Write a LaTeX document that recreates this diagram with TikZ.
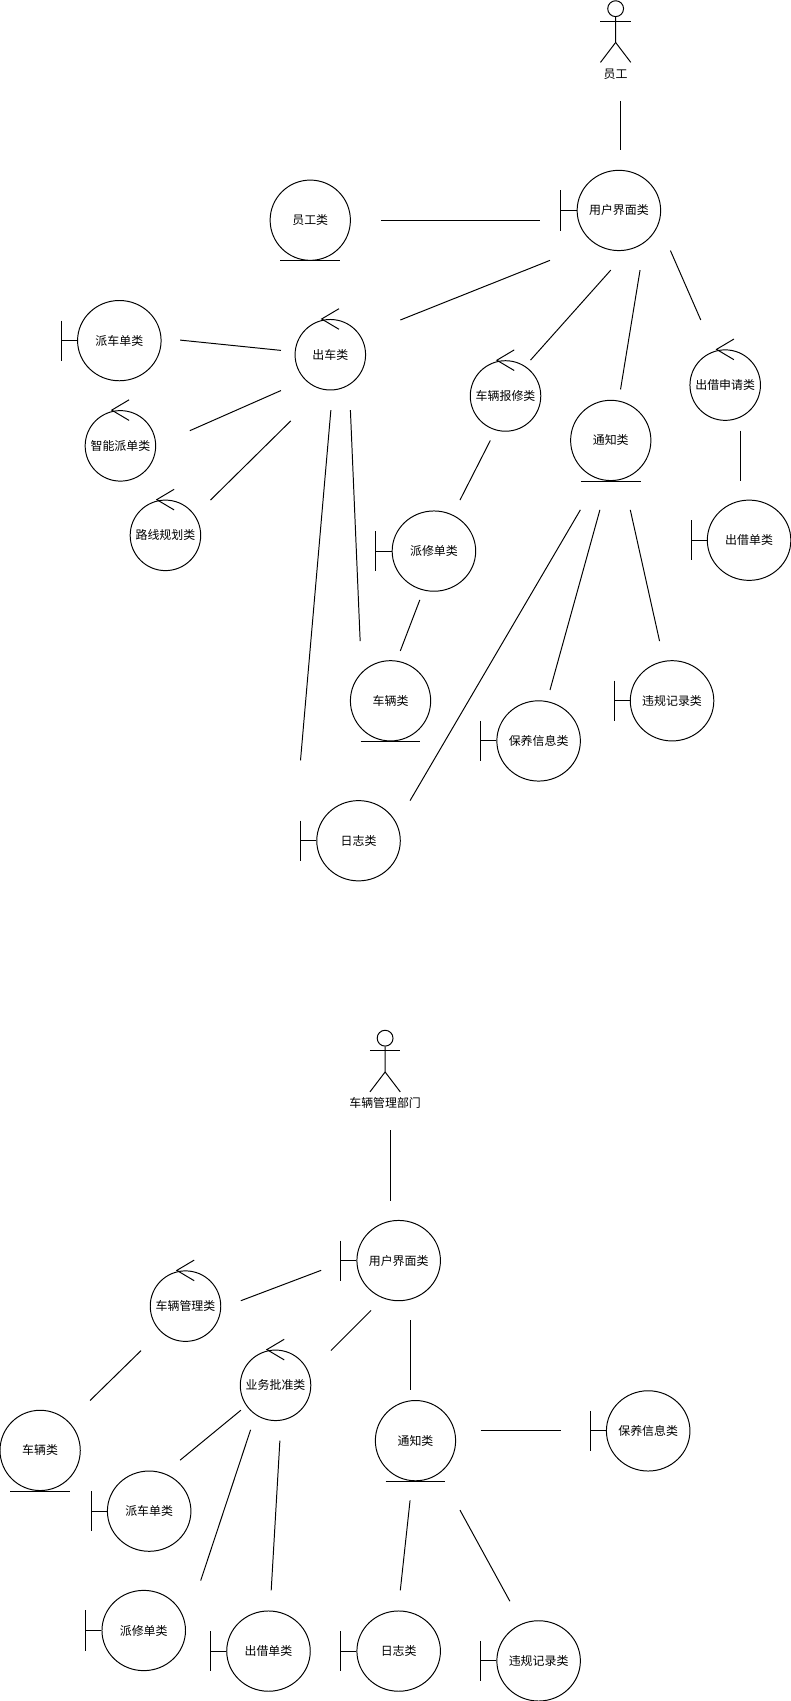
\documentclass[tikz,border=0pt]{standalone}
\usepackage{fontspec}
\setmainfont{Noto Sans CJK SC}
\usetikzlibrary{shapes.geometric}
\tikzset{
  ln/.style={draw=black,line width=0.9pt},
  bndnode/.style={ellipse,draw=black,line width=0.9pt,minimum width=77pt,minimum height=74pt,inner sep=0pt,font=\fontsize{11}{13}\selectfont},
  entnode/.style={ellipse,draw=black,line width=0.9pt,minimum width=74pt,minimum height=74pt,inner sep=0pt,font=\fontsize{11}{13}\selectfont},
  ctlnode/.style={ellipse,draw=black,line width=0.9pt,minimum width=65pt,minimum height=65pt,inner sep=0pt,font=\fontsize{11}{13}\selectfont},
  lbl/.style={inner sep=0pt,font=\fontsize{11}{13}\selectfont}
}
\newcommand{\bndcls}[4]{%
  \node[bndnode] (#1) at (#2,#3) {\makebox[0pt]{#4}};
  \draw[ln] (#1.west) -- ++(-14.5,0) ++(0,-18.5) -- ++(0,37);
}
\newcommand{\entcls}[4]{%
  \node[entnode] (#1) at (#2,#3) {\makebox[0pt]{#4}};
  \draw[ln] ([xshift=-27.5pt]#1.south) -- ([xshift=27.5pt]#1.south);
}
\newcommand{\ctlcls}[4]{%
  \node[ctlnode] (#1) at (#2,#3) {\makebox[0pt]{#4}};
  \draw[ln] ([shift={(8pt,9.5pt)}]#1.north) -- ([shift={(-8pt,0pt)}]#1.north) -- ([shift={(8pt,-9.5pt)}]#1.north);
}
\newcommand{\actorfig}[4]{%
  \node[circle,draw=black,line width=0.9pt,minimum size=14.6pt,inner sep=0pt] (#1) at (#2,#3) {};
  \draw[ln] (#1.south) -- ++(0,23.4) coordinate (#1hip) -- ++(-14,18.4);
  \draw[ln] (#1hip) -- ++(14,18.4);
  \draw[ln] ([shift={(-14pt,-3.8pt)}]#1.south) -- ([shift={(14pt,-3.8pt)}]#1.south);
  \node[lbl] (#1label) at (#2,#3+60) {#4};
}
\newcommand{\link}[3]{%
  \coordinate (#1a) at (#2); \coordinate (#1b) at (#3);
  \draw[ln] (#1a) -- (#1b);
}
\begin{document}
\begin{tikzpicture}[x=1pt,y=-1pt]
\useasboundingbox (0,0) rectangle (729,1568);
% actors
\actorfig{aone}{567.5}{8}{员工}
\actorfig{atwo}{355}{957}{车辆管理部门}
% upper
\bndcls{ui}{570.5}{194}{用户界面类}
\entcls{staff}{286}{203}{员工类}
\ctlcls{dep}{304.5}{327}{出车类}
\ctlcls{rep}{466}{365}{车辆报修类}
\ctlcls{lend}{668.5}{355}{出借申请类}
\ctlcls{smart}{111}{411}{智能派单类}
\ctlcls{route}{152.5}{493.5}{路线规划类}
\bndcls{disp}{110}{314}{派车单类}
\bndcls{fix}{400}{508}{派修单类}
\bndcls{lendo}{690.5}{498}{出借单类}
\bndcls{vio}{619.5}{646}{违规记录类}
\bndcls{maint}{496.5}{683}{保养信息类}
\bndcls{log}{330.5}{775}{日志类}
\entcls{note}{563}{406}{通知类}
\entcls{car}{360}{646}{车辆类}
% lower
\bndcls{uib}{367.5}{1162}{用户界面类}
\ctlcls{cmg}{171}{1204}{车辆管理类}
\ctlcls{biz}{254}{1277}{业务批准类}
\entcls{carb}{37}{1337}{车辆类}
\entcls{noteb}{383}{1328}{通知类}
\bndcls{dispb}{137.5}{1393}{派车单类}
\bndcls{fixb}{132.5}{1503}{派修单类}
\bndcls{lendb}{247.5}{1522}{出借单类}
\bndcls{logb}{367.5}{1522}{日志类}
\bndcls{viob}{496.5}{1531}{违规记录类}
\bndcls{maintb}{597.5}{1319}{保养信息类}
% connectors upper
\link{ca}{572,93}{572,138}
\link{cb}{351,203}{498,203}
\link{cc}{507,240}{369,295}
\link{cd}{563,249}{489,332}
\link{ce}{590,249}{572,359}
\link{cf}{618,231}{646,295}
\link{cg}{683,397}{683,443}
\link{ch}{259,323}{166,313.5}
\link{ci}{259,360}{175,397}
\link{cj}{268,388}{194,461}
\link{ck}{323,378}{332,591}
\link{cl}{305,378}{277,701}
\link{cm}{452,406}{424,461}
\link{cn}{387,553}{369,600}
\link{co}{535,470}{378,738}
\link{cp}{553,470}{507,636}
\link{cq}{581,470}{608,591}
% connectors lower
\link{da}{360,1042}{360,1107}
\link{db}{296,1171}{222,1199}
\link{dc}{342,1208}{305,1245}
\link{dd}{378,1217}{378,1281}
\link{de}{130,1245}{83,1291}
\link{df}{222,1300}{166,1346}
\link{dg}{231,1318}{185,1457}
\link{dh}{258,1328}{250,1466}
\link{di}{443,1319}{517,1319}
\link{dj}{378,1383}{369,1466}
\link{dk}{424,1392}{470,1476}
\end{tikzpicture}
\end{document}
